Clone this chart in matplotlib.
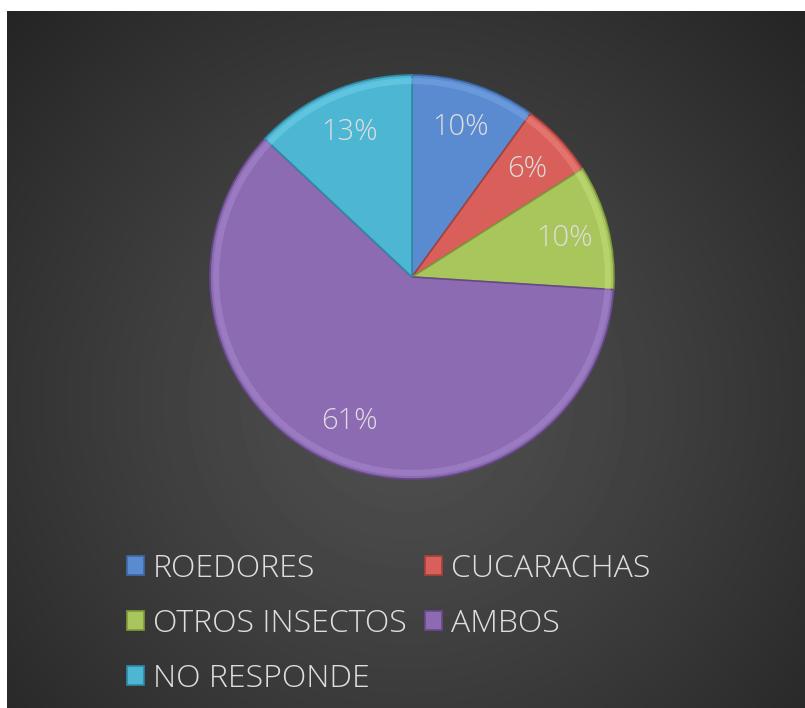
import numpy as np
from matplotlib import pyplot as plt

# data
categories = ['ROEDORES', 'CUCARACHAS', 'OTROS INSECTOS', 'AMBOS', 'NO RESPONDE']
values = [10, 6, 10, 61, 13]
colors = ['#5a8bd0', '#d9605a', '#a8c65c', '#8c6bb3', '#4db6d3']
rims = ['#7aa8e6', '#ec8680', '#c4e07c', '#a98bd0', '#74d2ec']
edges = ['#3d6aa5', '#a5403b', '#7f9a3d', '#67498a', '#2f8aa5']

W, H = 805, 708
fig = plt.figure(figsize=(W / 100, H / 100), dpi=100, facecolor='white')

# dark radial background
bg = fig.add_axes([7 / W, 0, (W - 7) / W, (H - 11) / H])
yy, xx = np.mgrid[0:697, 0:798]
r = np.sqrt((xx - 400) ** 2 + (yy - 390) ** 2) / 560.0
img = 0x50 - (0x50 - 0x24) * np.clip(r, 0, 1) ** 1.2
bg.imshow(img, cmap='gray', vmin=0, vmax=255, aspect='auto', interpolation='bilinear')
bg.axis('off')

font = dict(family='Open Sans', weight='light', size=23)

# pie
cx, cy, rad = 412, 277, 204
ax = fig.add_axes([(cx - rad) / W, (H - cy - rad) / H, 2 * rad / W, 2 * rad / H])
wedges, texts, autotexts = ax.pie(values, colors=colors, startangle=90, counterclock=False,
                                  autopct='%1.0f%%', pctdistance=0.78,
                                  wedgeprops=dict(linewidth=1.2),
                                  textprops=dict(color='#dedede', family='Open Sans',
                                                 weight='light', size=21))
for w, e in zip(wedges, edges):
    w.set_edgecolor(e)
# light rim for the bevel look
ax.pie(values, colors=rims, startangle=90, counterclock=False, radius=0.985,
       wedgeprops=dict(width=0.03, linewidth=0, alpha=0.5))
ax.set_xlim(-1.01, 1.01)
ax.set_ylim(-1.01, 1.01)
ax.set_aspect('equal')
ax.axis('off')

# legend filled row by row (matplotlib fills columns first)
order = [0, 2, 4, 1, 3]
leg = fig.legend([wedges[i] for i in order], [categories[i] for i in order],
                 ncol=2, loc='upper left',
                 bbox_to_anchor=(127 / W, 1 - 553 / H), frameon=False, prop=font,
                 handlelength=0.54, handleheight=0.54, handletextpad=0.28,
                 columnspacing=0.55, labelspacing=0.72, borderpad=0, borderaxespad=0)
for t in leg.get_texts():
    t.set_color('#dedede')

plt.savefig('out.png', dpi=100, facecolor='white')
